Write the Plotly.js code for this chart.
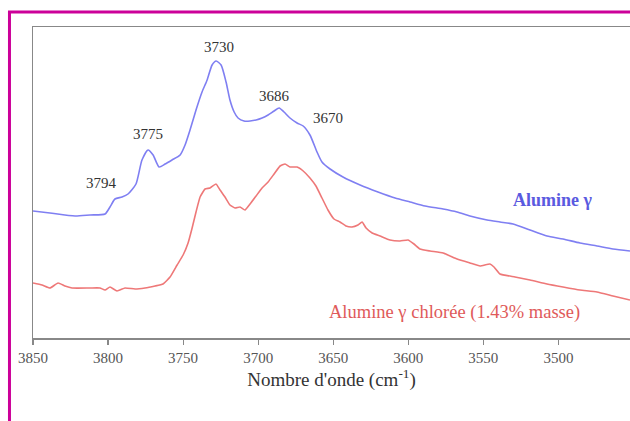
<!DOCTYPE html>
<html>
<head>
<meta charset="utf-8">
<script src="https://cdn.plot.ly/plotly-3.0.1.min.js"></script>
<style>
html,body{margin:0;padding:0;background:#fff;}
#chart{width:630px;height:421px;}
</style>
</head>
<body>
<div id="chart"></div>
<script>
// Wavenumbers (cm-1) and intensities (arbitrary units)
const wnBlue = [3850,3838.7,3822,3812,3802,3798.7,3795.4,3790.7,3786.7,3781.4,3777.4,3773.4,3770,3766,3762,3757.4,3752,3748.7,3745.4,3741.4,3737.4,3734,3730.7,3728,3724.7,3721.4,3718.8,3716,3713.4,3709.4,3705.4,3701.4,3697.4,3693.4,3689.4,3686,3682.8,3678.8,3674.1,3670,3665.5,3660.8,3657.5,3652.1,3643.5,3632.1,3620.2,3608.8,3598.8,3588.8,3576.8,3567.5,3558.9,3547.5,3538.9,3530.2,3518.9,3507.6,3496.9,3485.6,3474.3,3463.6,3452.3];
const alumine = [127,125,122,123,124,131,139,141,144,154,178,188,183,171,174,178,183,193,208,228,246,258,273,277,273,256,238,226,220,217,217,218,220,223,227,230,226,220,215,212,203,186,176,169,161,153,146,140,136,132,129,126,122,118,116,114,108,102,99,95,92,89,87];

const wnRed = [3850,3844,3838.7,3833.3,3828.7,3824,3812,3805.4,3802,3798.7,3794,3788.7,3782,3775.4,3768.7,3763.4,3758.7,3754,3750,3746.7,3744,3741.4,3738.7,3735.4,3732.1,3728.1,3725.4,3722.1,3718.8,3715.4,3712.1,3708.8,3705.4,3701.4,3697.4,3693.4,3689.4,3685.4,3682.1,3678.8,3674.1,3670,3665.5,3661.5,3657.5,3653.5,3649.5,3645.5,3641.5,3637.5,3633.5,3630.8,3628.1,3624.1,3618.8,3612.2,3605.5,3600.2,3596.2,3592.2,3585.5,3576.8,3567.5,3558.9,3552.2,3545.6,3542.9,3538.9,3528.9,3518.9,3507.6,3496.9,3485.6,3474.3,3463.6,3452.3];
const alumineCl = [55,53,50,55,52,50,50,50,48,51,47,50,49,50,52,54,61,73,83,95,110,126,141,149,150,154,148,141,133,130,131,128,134,142,150,156,164,172,174,171,171,167,160,152,140,128,119,116,112,111,113,116,110,105,102,98,97,98,94,89,87,85,79,75,72,74,71,64,61,58,54,51,48,46,42,38];

const xTicks = [3850,3800,3750,3700,3650,3600,3550,3500];
const peakLabels = ['3794','3775','3730','3686','3670'];
const seriesNames = ['Alumine γ','Alumine γ chlorée (1.43% masse)'];

const serif = 'Liberation Serif';

const traces = [
  {x: wnBlue, y: alumine, type:'scatter', mode:'lines', name: seriesNames[0],
   line:{color:'#7f7ff2', width:1.6, shape:'spline', smoothing:0.6}},
  {x: wnRed, y: alumineCl, type:'scatter', mode:'lines', name: seriesNames[1],
   line:{color:'#ee7878', width:1.6, shape:'spline', smoothing:0.4}}
];

const peakPos = [[3804.7,155],[3773.4,204],[3726,291],[3689,242],[3653.5,220]];
const annotations = peakLabels.map((t,i)=>({
  x: peakPos[i][0], y: peakPos[i][1], text: t, showarrow:false,
  xanchor:'center', yanchor:'middle',
  font:{family:serif, size:15, color:'#333'}
}));
annotations.push({x:3503.6, y:138, text:'<b>'+seriesNames[0]+'</b>', showarrow:false,
  xanchor:'center', yanchor:'middle', font:{family:serif, size:18, color:'#5a5ae0'}});
annotations.push({x:3568.9, y:26, text:seriesNames[1], showarrow:false,
  xanchor:'center', yanchor:'middle', font:{family:serif, size:18.5, color:'#e05a5a'}});

const mag = '#cc0099';
const layout = {
  width:630, height:421,
  margin:{l:33, r:0, t:27, b:83},
  paper_bgcolor:'#fff', plot_bgcolor:'#fff',
  showlegend:false,
  font:{family:serif},
  xaxis:{
    range:[3850,3452.3], autorange:false,
    tickvals: xTicks, ticktext: xTicks.map(String),
    ticks:'outside', ticklen:5, tickcolor:'#888', tickwidth:1.2,
    showline:true, linecolor:'#888', linewidth:1.5, mirror:true,
    showgrid:false, zeroline:false,
    tickfont:{family:serif, size:15, color:'#555'},
    title:{text:"Nombre d'onde (cm<sup>-1</sup>)", font:{family:serif, size:19, color:'#333'}, standoff:8}
  },
  yaxis:{
    range:[0,311], autorange:false,
    showticklabels:false, ticks:'',
    showline:true, linecolor:'#888', linewidth:1.5,
    showgrid:false, zeroline:false
  },
  annotations: annotations,
  shapes:[
    {type:'line', xref:'paper', yref:'paper', x0:-0.0394, x1:-0.0394, y0:1.048, y1:-0.3, line:{color:mag, width:3}},
    {type:'line', xref:'paper', yref:'paper', x0:-0.0419, x1:1.01, y0:1.048, y1:1.048, line:{color:mag, width:3}}
  ]
};

Plotly.newPlot('chart', traces, layout, {displayModeBar:false, staticPlot:true});
</script>
</body>
</html>
